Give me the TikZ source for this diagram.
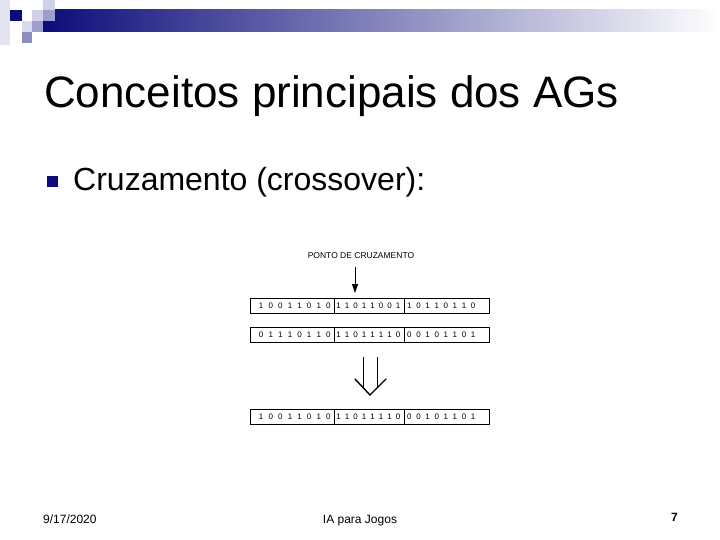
\documentclass[tikz,border=0pt]{standalone}
\usepackage{fontspec}
\setmainfont{Liberation Sans}
\usetikzlibrary{arrows.meta}
\definecolor{navyb}{RGB}{12,12,122}
\definecolor{barmid}{RGB}{170,170,192}
\definecolor{lavA}{RGB}{208,208,234}
\definecolor{lavB}{RGB}{158,158,206}
\definecolor{lavC}{RGB}{140,140,192}
\definecolor{strip}{RGB}{228,228,242}
\def\bitloop#1{\ifx#1\relax\else\makebox[\bitpitch][c]{#1}\expandafter\bitloop\fi}
\newcommand\bitrow[2]{\def\bitpitch{#1}\bitloop#2\relax}
\tikzset{
  seg/.style={draw, line width=0.8pt, anchor=north west, minimum height=15pt, inner sep=0pt, font=\fontsize{8}{9}\selectfont},
  thinln/.style={line width=0.9pt},
  wingln/.style={line width=1.4pt, line cap=round},
  foot/.style={font=\fontsize{12}{14}\selectfont, inner sep=0pt},
}
\newcommand\mkseg[6]{\node[seg, minimum width=#3] (#1) at (#2) {\makebox[#3][l]{\hspace{#4}\bitrow{#5}{#6}}};}
\begin{document}
\begin{tikzpicture}[x=1pt,y=-1pt]
\useasboundingbox (0,0) rectangle (720,540);
\fill[white] (0,0) rectangle (720,540);
% top decoration
\fill[strip] (0,0) rectangle (10,45);
\shade[left color=navyb, middle color=barmid, right color=white] (43,10) rectangle (720,32);
\fill[navyb] (10,10) rectangle (22,21);
\fill[lavA] (32,10) rectangle (43,21);
\fill[lavA] (43,0) rectangle (55,10);
\fill[lavB] (43,10) rectangle (55,21);
\fill[lavA!80] (22,21) rectangle (32,32);
\fill[lavB] (32,21) rectangle (43,32);
\fill[lavC] (22,32) rectangle (32,43);
% title
\node[anchor=base west, inner sep=0pt, font=\fontsize{44}{50}\selectfont] (title) at (44,108) {Conceitos principais dos AGs};
% bullet
\node[fill=navyb, minimum size=11pt, inner sep=0pt] (bul) at (52.5,181.5) {};
\node[anchor=base west, inner sep=0pt, font=\fontsize{32}{38}\selectfont] (cruz) at (73,191) {Cruzamento (crossover):};
% crossover label and arrow
\node[inner sep=0pt, font=\fontsize{8.5}{10}\selectfont] (pc) at (361,256) {PONTO DE CRUZAMENTO};
\coordinate (pcs) at (355,267);
\coordinate (pct) at (355,293);
\draw[thinln, -{Triangle[length=9pt,width=6pt]}] (pcs) -- (pct);
% parent 1
\mkseg{a1}{250,298}{84pt}{6pt}{9.6pt}{10011010}
\mkseg{a2}{334,298}{70pt}{0pt}{8.5pt}{11011001}
\mkseg{a3}{404,298}{85pt}{0.5pt}{9.1pt}{10110110}
% parent 2
\mkseg{b1}{250,327}{84pt}{6pt}{9.6pt}{01110110}
\mkseg{b2}{334,327}{70pt}{0pt}{8.5pt}{11011110}
\mkseg{b3}{404,327}{85pt}{0.5pt}{9.1pt}{00101101}
% big arrow
\coordinate (l1) at (363,357);
\coordinate (l2) at (363,387.5);
\coordinate (r1) at (377,357);
\coordinate (r2) at (377,388);
\coordinate (wl) at (355,379);
\coordinate (wr) at (386,379);
\coordinate (tip) at (370,395);
\draw[thinln] (l1) -- (l2);
\draw[thinln] (r1) -- (r2);
\draw[wingln] (wl) -- (tip) -- (wr);
% child
\mkseg{c1}{250,409}{84pt}{6pt}{9.6pt}{10011010}
\mkseg{c2}{334,409}{70pt}{0pt}{8.5pt}{11011110}
\mkseg{c3}{404,409}{85pt}{0.5pt}{9.1pt}{00101101}
% footer
\node[foot, anchor=base west] (date) at (43,523) {9/17/2020};
\node[foot, anchor=base] (ia) at (360,523) {IA para Jogos};
\node[foot, anchor=base east, font=\bfseries\fontsize{12}{14}\selectfont] (pg) at (678,521) {7};
\end{tikzpicture}
\end{document}
